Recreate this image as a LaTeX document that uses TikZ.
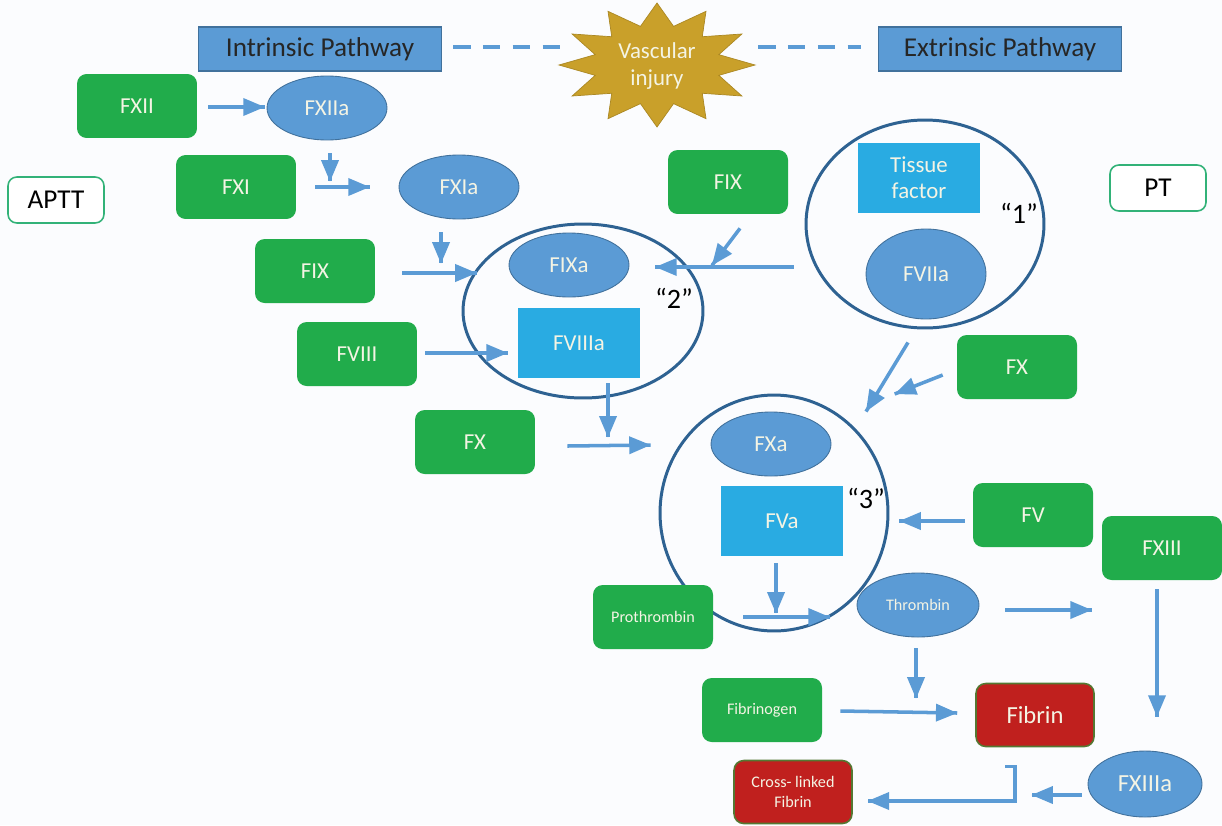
\documentclass[tikz,border=0pt]{standalone}
\usepackage{fontspec}
\setmainfont{Carlito}
\usepackage{tikz}
\usetikzlibrary{arrows}
\usetikzlibrary{calc}
\usetikzlibrary{decorations.markings}
\usetikzlibrary{shapes.geometric}
\tikzset{->/.style = {decoration={markings,
                                  mark=at position 1 with {\arrow[scale=0.95]{triangle 45}}},
                      postaction={decorate}}}
\definecolor{bgcol}{RGB}{251, 252, 254}
\definecolor{mgreen}{RGB}{33, 172, 75}
\definecolor{mblue}{RGB}{91, 155, 213}
\definecolor{mblueline}{RGB}{65, 113, 156}
\definecolor{mcyan}{RGB}{41, 171, 226}
\definecolor{mring}{RGB}{46, 98, 146}
\definecolor{mred}{RGB}{192, 32, 30}
\definecolor{mredline}{RGB}{84, 120, 50}
\definecolor{mgold}{RGB}{201, 160, 42}
\definecolor{mteal}{RGB}{50, 178, 120}
\definecolor{mtext}{RGB}{244, 244, 228}
\tikzset{factor/.style = {rectangle, rounded corners=5.5pt, fill=mgreen, text=mtext,
                          minimum width=2.4cm, minimum height=1.28cm, inner sep=0pt,
                          font=\fontsize{13}{15}\selectfont},
         small/.style = {font=\fontsize{9.2}{11}\selectfont},
         enzyme/.style = {ellipse, fill=mblue, draw=mblueline, line width=0.5pt, text=mtext,
                          minimum width=2.4cm, minimum height=1.28cm, inner sep=0pt,
                          font=\fontsize{13}{15}\selectfont},
         cofactor/.style = {rectangle, fill=mcyan, text=mtext, align=center,
                            minimum width=2.44cm, minimum height=1.4cm, inner sep=0pt,
                            font=\fontsize{13}{15}\selectfont},
         pathway/.style = {rectangle, fill=mblue, draw=mblueline, line width=0.6pt,
                           text=black!85, minimum width=4.86cm, minimum height=0.88cm,
                           font=\fontsize{15.5}{18}\selectfont},
         assay/.style = {rectangle, rounded corners=5pt, fill=white, draw=mteal, line width=0.9pt,
                         minimum width=1.92cm, minimum height=0.92cm,
                         font=\fontsize{15.5}{18}\selectfont},
         complex/.style = {ellipse, draw=mring, line width=1.7pt, inner sep=0pt},
         product/.style = {rectangle, rounded corners=5.5pt, fill=mred, draw=mredline,
                           line width=0.9pt, text=mtext, align=center,
                           minimum width=2.36cm, minimum height=1.26cm, inner sep=0pt},
         tag/.style = {font=\fontsize{16}{18}\selectfont},
         link/.style = {mblue, line width=2pt}}

\begin{document}
\begin{tikzpicture}[x=0.02cm, y=-0.02cm]
    \fill [bgcol] (0, 0) rectangle (1222, 825);

    \filldraw [fill=mgold, draw=mgold!85!black, line width=0.4pt]
        plot [samples at={0, 15, ..., 345}, variable=\a]
        ({657 + ifthenelse(mod(\a, 30) == 0, 98, 64) * cos(\a)},
         {65 + ifthenelse(mod(\a, 30) == 0, 62, 40) * sin(\a)}) -- cycle;
    \node [text=mtext, align=center, font=\fontsize{13}{15}\selectfont] (injury) at (657, 66) {Vascular\\injury};

    \node [pathway] (intr) at (320, 49) {Intrinsic Pathway};
    \node [pathway] (extr) at (1000, 49) {Extrinsic Pathway};
    \draw [link, line width=2.4pt, dash pattern=on 10pt off 7pt] ($(intr.east) + (11, -2)$) -- ($(injury.center) + (-87, -19)$);
    \draw [link, line width=2.4pt, dash pattern=on 10pt off 7pt] ($(injury.center) + (101, -19)$) -- ($(extr.west) + (-17, -2)$);

    \node [assay] (aptt) at (56, 200) {APTT};
    \node [assay] (pt) at (1158, 188) {PT};

    \node [complex, minimum width=4.8cm, minimum height=3.48cm] (ring2) at (583, 311) {};
    \node [complex, minimum width=4.76cm, minimum height=4.16cm] (ring1) at (925, 224) {};
    \node [complex, minimum width=4.56cm, minimum height=4.72cm] (ring3) at (774, 513) {};
    \node [tag] (q1) at (1019, 213) {``1''};
    \node [tag] (q2) at (674, 298) {``2''};
    \node [tag] (q3) at (866, 498) {``3''};

    \node [factor] (fxii) at (137, 106) {FXII};
    \node [enzyme] (fxiia) at (327, 108) {FXIIa};
    \node [factor] (fxi) at (236, 187) {FXI};
    \node [enzyme] (fxia) at (459, 187) {FXIa};
    \node [factor] (fixl) at (315, 271) {FIX};
    \node [enzyme] (fixa) at (569, 265) {FIXa};
    \node [factor] (fviii) at (357, 354) {FVIII};
    \node [cofactor] (fviiia) at (579, 343) {FVIIIa};
    \node [factor] (fixr) at (728, 182) {FIX};
    \node [cofactor] (tf) at (919, 178) {Tissue\\factor};
    \node [enzyme, minimum height=1.8cm] (fviia) at (926, 274) {FVIIa};
    \node [factor] (fxr) at (1017, 367) {FX};
    \node [factor] (fxl) at (475, 442) {FX};
    \node [enzyme] (fxa) at (771, 444) {FXa};
    \node [cofactor] (fva) at (782, 521) {FVa};
    \node [factor] (fv) at (1033, 515) {FV};
    \node [factor] (fxiii) at (1162, 548) {FXIII};
    \node [factor, small] (proth) at (653, 617) {Prothrombin};
    \node [enzyme, small, minimum width=2.44cm] (thromb) at (918, 605) {Thrombin};
    \node [factor, small] (fibgen) at (762, 710) {Fibrinogen};
    \node [product, font=\fontsize{14}{16}\selectfont] (fibrin) at (1035, 715) {Fibrin};
    \node [product, small] (xfibrin) at (793, 792) {Cross- linked\\Fibrin};
    \node [enzyme, minimum width=2.28cm, minimum height=1.32cm, font=\fontsize{14}{16}\selectfont] (fxiiia) at (1145, 784) {FXIIIa};

    \draw [link, ->] ($(fxii.east) + (11, 1)$) -- ($(fxiia.west) + (-2, -1)$);
    \draw [link, ->] ($(fxiia.south) + (3, 13)$) -- ($(fxiia.south) + (3, 41)$);
    \draw [link, ->] ($(fxi.east) + (19, 0)$) -- ($(fxia.west) + (-29, 0)$);
    \draw [link, ->] ($(fxia.south) + (-18, 13)$) -- ($(fxia.south) + (-18, 44)$);
    \draw [link, ->] ($(fixl.east) + (27, 2)$) -- ($(ring2.west) + (15, -38)$);
    \draw [link, ->] ($(fviii.east) + (8, -1)$) -- ($(fviiia.west) + (-10, 10)$);
    \draw [link, ->] ($(ring1.west) + (-11, 43)$) -- ($(fixa.east) + (26, 2)$);
    \draw [link, ->] ($(fixr.south) + (12, 14)$) -- ($(fixr.south) + (-16, 51)$);
    \draw [link, ->] ($(ring1.south) + (-17, 13)$) -- ($(ring3.north) + (92, 18)$);
    \draw [link, ->] ($(fxr.west) + (-14, 8)$) -- ($(fxr.west) + (-62, 27)$);
    \draw [link, ->] ($(fviiia.south) + (29, 5)$) -- ($(fviiia.south) + (29, 59)$);
    \draw [link, ->] ($(fxl.east) + (32, 4)$) -- ($(ring3.west) + (-8, -68)$);
    \draw [link, ->] ($(fv.west) + (-8, 6)$) -- ($(ring3.east) + (10, 8)$);
    \draw [link, ->] ($(fva.south) + (-6, 7)$) -- ($(fva.south) + (-6, 57)$);
    \draw [link, ->] ($(proth.east) + (30, 0)$) -- ($(thromb.west) + (-27, 12)$);
    \draw [link, ->] ($(thromb.east) + (26, 5)$) -- ($(fxiii.west) + (-10, 62)$);
    \draw [link, ->] ($(fxiii.south) + (-5, 9)$) -- ($(fxiiia.north) + (12, -34)$);
    \draw [link, ->] ($(thromb.south) + (-2, 11)$) -- ($(thromb.south) + (-2, 61)$);
    \draw [link, ->] ($(fibgen.east) + (18, 1)$) -- ($(fibrin.west) + (-18, -2)$);
    \draw [link, ->] ($(fxiiia.west) + (-6, 11)$) -- ($(fxiiia.west) + (-56, 11)$);
    \draw [link, ->] ($(fibrin.south) + (-30, 19)$) -- ++(10, 0) |- ($(xfibrin.east) + (15, 9)$);
\end{tikzpicture}
\end{document}
